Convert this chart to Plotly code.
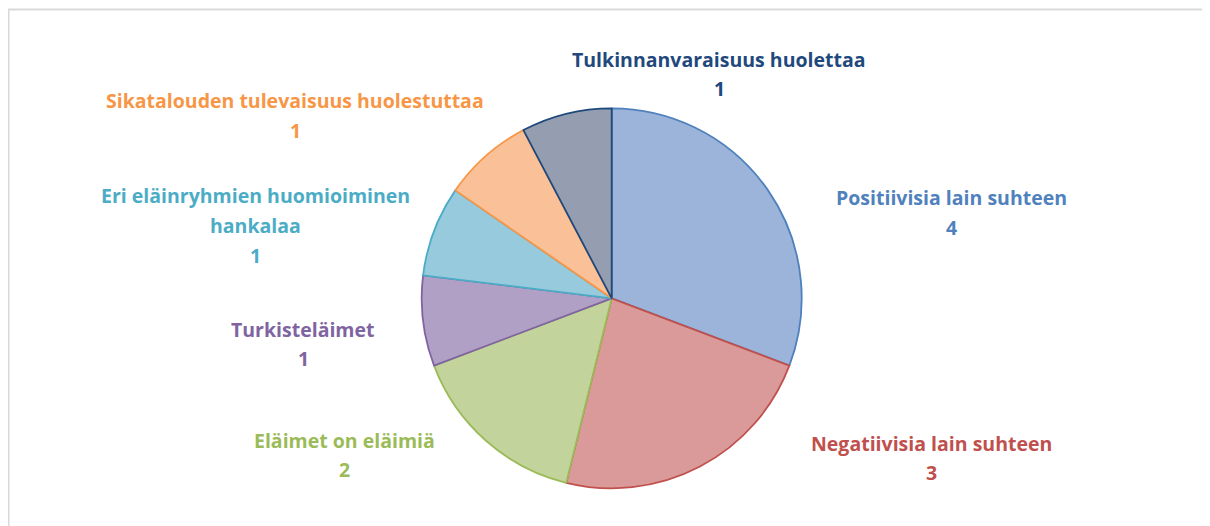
import plotly.graph_objects as go

labels = ["Positiivisia lain suhteen", "Negatiivisia lain suhteen", "Eläimet on eläimiä",
          "Turkisteläimet", "Eri eläinryhmien huomioiminen<br>hankalaa",
          "Sikatalouden tulevaisuus huolestuttaa", "Tulkinnanvaraisuus huolettaa"]
values = [4, 3, 2, 1, 1, 1, 1]

fill_colors = ["#9CB4D9", "#D99A99", "#C2D49B", "#B1A0C5", "#97CADC", "#FAC098", "#949EB0"]
line_colors = ["#4F81BD", "#C0504D", "#9BBB59", "#8064A2", "#4BACC6", "#F79646", "#1F497D"]

# label placement (page pixel position of the first text line centre)
label_pos = [(951, 198), (931, 443), (345, 440), (303, 329), (255, 196), (295, 101), (719, 59)]

OFF = 8  # page body margin
W, H = 1210 - OFF, 526 - OFF
cx, cy, r = 611.7 - OFF, 298.3 - OFF, 190

fig = go.Figure(go.Pie(
    labels=labels, values=values, sort=False, direction="clockwise", rotation=0,
    marker=dict(colors=fill_colors, line=dict(color=line_colors, width=1.8)),
    textinfo="none", hoverinfo="label+value", showlegend=False,
    domain=dict(x=[(cx - r) / W, (cx + r) / W], y=[(H - cy - r) / H, (H - cy + r) / H]),
))

LINE = 29.7
annotations = []
for lab, val, col, (x, y) in zip(labels, values, line_colors, label_pos):
    lines = lab.split("<br>") + [str(val)]
    for i, t in enumerate(lines):
        annotations.append(dict(
            x=(x - OFF) / W, y=1 - (y - OFF + i * LINE) / H, xref="paper", yref="paper",
            text="<b>" + t + "</b>", showarrow=False, xanchor="center", yanchor="middle",
            font=dict(family="Open Sans", size=19.5, color=col),
        ))

fig.update_layout(
    width=W, height=H, margin=dict(l=0, r=0, t=0, b=0),
    paper_bgcolor="white", plot_bgcolor="white",
    annotations=annotations,
    shapes=[dict(type="rect", xref="paper", yref="paper",
                 x0=0.5 / W, x1=1201 / W, y0=-0.05, y1=1 - 1.5 / H,
                 line=dict(color="#D9D9D9", width=2), fillcolor="rgba(0,0,0,0)")],
)

fig.write_html("out.html")
